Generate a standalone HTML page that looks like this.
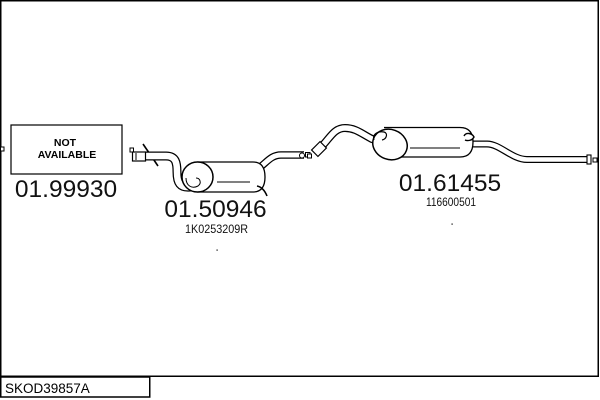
<!DOCTYPE html>
<html>
<head>
<meta charset="utf-8">
<style>
html,body{margin:0;padding:0;background:#fff;}
body{width:600px;height:400px;overflow:hidden;position:relative;font-family:"Liberation Sans",Arial,sans-serif;}
svg{position:absolute;left:0;top:0;}
</style>
</head>
<body>
<svg width="600" height="400" viewBox="0 0 600 400" xmlns="http://www.w3.org/2000/svg">
  <!-- frame -->
  <rect x="0.75" y="0.75" width="597.5" height="375.5" fill="none" stroke="#000" stroke-width="1.5"/>
  <!-- bottom label box -->
  <rect x="0.75" y="377" width="149" height="20" fill="#fff" stroke="#000" stroke-width="1.5"/>
  <text x="5" y="393" font-family="Liberation Sans, Arial, sans-serif" font-size="13.5" fill="#000">SKOD39857A</text>

  <!-- part 0: NOT AVAILABLE -->
  <rect x="0.5" y="147" width="3.5" height="4" fill="#fff" stroke="#000" stroke-width="1"/>
  <rect x="11" y="125" width="111" height="49" fill="#fff" stroke="#000" stroke-width="1.2"/>
  <text x="65" y="146" text-anchor="middle" font-family="Liberation Sans, Arial, sans-serif" font-size="10.5" font-weight="bold">NOT</text>
  <text x="67" y="158" text-anchor="middle" font-family="Liberation Sans, Arial, sans-serif" font-size="10.5" font-weight="bold">AVAILABLE</text>
  <text x="66" y="197" text-anchor="middle" font-family="Liberation Sans, Arial, sans-serif" font-size="24.5" fill="#111">01.99930</text>

  <!-- part 1 : 01.50946 -->
  <g fill="none" stroke-linecap="butt" stroke-linejoin="round">
    <path d="M143,144 L158,166" stroke="#000" stroke-width="1.6"/>
    <path d="M145,156 L166,156 C176,156 177,163 177,172 C177,183 180,188 190,187 C198,186 200,180 196,176" stroke="#000" stroke-width="9"/>
    <path d="M145,156 L166,156 C176,156 177,163 177,172 C177,183 180,188 190,187 C198,186 200,180 196,176" stroke="#fff" stroke-width="6.5"/>
    <path d="M256,170 C266,164 270,155 281,155 L304,155" stroke="#000" stroke-width="7.5"/>
    <path d="M256,170 C266,164 270,155 281,155 L304,155" stroke="#fff" stroke-width="5"/>
  </g>
  <rect x="130" y="148" width="3.5" height="4" fill="#fff" stroke="#000" stroke-width="1"/>
  <rect x="132.5" y="152" width="13" height="9" fill="#fff" stroke="#000" stroke-width="1.2"/>
  <line x1="136" y1="153" x2="136" y2="160" stroke="#000" stroke-width="1"/>
  <path d="M198,162 L253,162 Q265,162 265,177 Q265,192 253,192 L198,192 Z" fill="#fff" stroke="#000" stroke-width="1.3"/>
  <ellipse cx="197.5" cy="177" rx="15.5" ry="15" fill="#fff" stroke="#000" stroke-width="1.5"/>
  <path d="M186,178 C186,186 192,189 198,186 C202,183 200,178 196,178" fill="none" stroke="#000" stroke-width="1"/>
  <line x1="217" y1="182" x2="250" y2="182" stroke="#000" stroke-width="1.1"/>
  <path d="M257,186 C262,187 265,191 267,196" fill="none" stroke="#000" stroke-width="1.6"/>
  <rect x="305.5" y="152.5" width="4.5" height="4.5" fill="#fff" stroke="#000" stroke-width="1"/>
  <text x="215.5" y="217" text-anchor="middle" font-family="Liberation Sans, Arial, sans-serif" font-size="24.5" fill="#111">01.50946</text>
  <text x="185" y="233" textLength="63" lengthAdjust="spacingAndGlyphs" font-family="Liberation Sans, Arial, sans-serif" font-size="12" fill="#111">1K0253209R</text>
  <rect x="216.5" y="249.5" width="1.2" height="1.2" fill="#000"/>

  <!-- part 2 : 01.61455 -->
  <ellipse cx="302" cy="155.5" rx="2.5" ry="2.5" fill="#fff" stroke="#000" stroke-width="1"/>
  <rect x="307.5" y="154" width="4" height="4" fill="#fff" stroke="#000" stroke-width="1"/>
  <g fill="none" stroke-linejoin="round">
    <path d="M322,146 C330,138 334,128 345,128 C356,128 362,134 372,139 L384,143" stroke="#000" stroke-width="8"/>
    <path d="M322,146 C330,138 334,128 345,128 C356,128 362,134 372,139 L384,143" stroke="#fff" stroke-width="5.5"/>
    <path d="M468,144 L487,144 C500,144 512,159.5 527,159.5 L589,159.5" stroke="#000" stroke-width="7"/>
    <path d="M468,144 L487,144 C500,144 512,159.5 527,159.5 L589,159.5" stroke="#fff" stroke-width="4.6"/>
  </g>
  <g transform="translate(319,149) rotate(-45)">
    <rect x="-6" y="-4.5" width="12" height="9" fill="#fff" stroke="#000" stroke-width="1.2"/>
  </g>
  <path d="M384,127.5 L460,127.5 Q473,127.5 473,142 Q473,157 460,157 L390,157" fill="#fff" stroke="#000" stroke-width="1.3"/>
  <ellipse cx="390" cy="144.5" rx="17.5" ry="15" transform="rotate(20 390 144.5)" fill="#fff" stroke="#000" stroke-width="1.5"/>
  <path d="M374,140 C372,134 378,131 384,132 C388,133 387,139 382,140" fill="none" stroke="#000" stroke-width="1.2"/>
  <line x1="410" y1="148" x2="460" y2="148" stroke="#000" stroke-width="1.1"/>
  <path d="M464,136 C466,132 472,133 474,137 C472,141 467,141 465,140" fill="#fff" stroke="#000" stroke-width="1.4"/>
  <rect x="587" y="155" width="4" height="9" fill="#fff" stroke="#000" stroke-width="1.1"/>
  <rect x="593" y="158" width="4" height="4" fill="#fff" stroke="#000" stroke-width="1"/>
  <text x="450" y="191" text-anchor="middle" font-family="Liberation Sans, Arial, sans-serif" font-size="24.5" fill="#111">01.61455</text>
  <text x="426" y="206" textLength="50" lengthAdjust="spacingAndGlyphs" font-family="Liberation Sans, Arial, sans-serif" font-size="12" fill="#111">116600501</text>
  <rect x="451.5" y="223.5" width="1.2" height="1.2" fill="#000"/>
</svg>
</body>
</html>
